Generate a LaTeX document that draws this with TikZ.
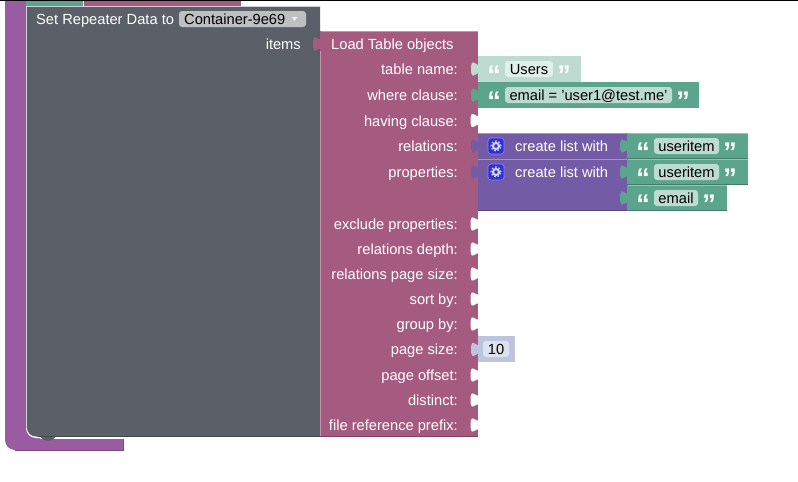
\documentclass[tikz,border=0pt]{standalone}
\usepackage{fontspec}
\setmainfont{Liberation Sans}
\definecolor{listpurple}{HTML}{9A5CA1}
\definecolor{greyblock}{HTML}{5B5F68}
\definecolor{loadred}{HTML}{A55B80}
\definecolor{strgreen}{HTML}{5BA58C}
\definecolor{strlight}{HTML}{BDDBD1}
\definecolor{strfield}{HTML}{BDDBD1}
\definecolor{mkgreen}{HTML}{745BA5}
\definecolor{numlight}{HTML}{BDC5DE}
\definecolor{numfield}{HTML}{DEE2EF}
\definecolor{gearblue}{HTML}{3030D8}
\definecolor{ddgrey}{HTML}{BDBFC3}
\tikzset{
  txt/.style={inner sep=0pt,text height=13pt,text depth=3pt,font=\fontsize{14.67}{16}\selectfont,text=black},
  lbl/.style={txt,text=white,anchor=east},
  lft/.style={txt,text=white,anchor=west},
  qmark/.style={inner sep=0pt,text=white,font=\fontsize{27}{27}\selectfont\bfseries}
}
% puzzle tab, centre height #2, right side at #1
\newcommand{\tabpath}[2]{(#1,#2-7.5) .. controls (#1,#2+2.5) and (#1-8,#2-15.5) .. (#1-8,#2) .. controls (#1-8,#2+15.5) and (#1,#2-2.5) .. (#1,#2+7.5)}
\begin{document}
\begin{tikzpicture}[x=1pt,y=-1pt]
  \useasboundingbox (0,0) rectangle (798,482);
  \fill[white] (0,0) rectangle (798,482);
  \fill[black] (0,0) rectangle (798,1);
  % outer list block
  \fill[listpurple] (5,1)--(40,1)--(40,439)--(123,439)--(123,450)--(15,450) .. controls (9.5,450) and (5,445.5) .. (5,440)--cycle;
  \draw[listpurple!80!black,line width=0.6pt] (123,439)--(123,450)--(15,450);
  % strip of the blocks above
  \fill[strgreen] (26,1) rectangle (83,6);
  \fill[loadred] (84,1) rectangle (241,6);
  \fill[strgreen] (40,6)--(42,8)--(46,9.5)--(50,9.5)--(54,8)--(56,6)--cycle;
  % repeater block
  \fill[white] (26,6)--(26,428) .. controls (26,433.5) and (30.5,438) .. (36,438)--(44,438)--(44,6)--cycle;
  \fill[greyblock] (27,6)--(27,428) .. controls (27,432.5) and (31,436.5) .. (36,436.5)--(320,436.5)--(320,6)--cycle;
  \fill[greyblock] (40,436)--(42,438.5)--(46,440.5)--(51,440.5)--(54,438.5)--(56,436)--cycle;
  \draw[white!72!greyblock,line width=0.6pt] (26.7,428)--(26.7,6.3)--(320,6.3);
  \draw[greyblock!75!black,line width=0.6pt] (38,436.3)--(320,436.3);
  \node[lft] (settitle) at (36,19) {Set Repeater Data to};
  \fill[ddgrey,rounded corners=3pt] (179,11) rectangle (306,27);
  \node[txt,anchor=west] (containerfield) at (184,19) {Container-9e69};
  \fill[white!88!greyblock] (291.5,17) -- (297.5,17) -- (294.5,21) -- cycle;
  \node[lbl] (itemslbl) at (301,44) {items};
  % load table block
  \fill[loadred] (320,31) rectangle (478,436);
  \fill[loadred] \tabpath{321}{44};
  \draw[white!35!loadred,line width=0.5pt] (320.5,51)--(320.5,436);
  \draw[white!35!loadred,line width=0.5pt] (320.5,31.3)--(478,31.3);
  \draw[loadred!75!black,line width=0.6pt] (320,436.3)--(478,436.3);
  \node[lft] (loadtitle) at (331,44) {Load Table objects};
  \foreach \rowy/\rowtxt/\rowname in {69/table name:/tablename,95/where clause:/whereclause,121/having clause:/havingclause,146/relations:/relationsrow,172/properties:/propertiesrow,224/exclude properties:/excludeprops,249/relations depth:/relationsdepth,274/relations page size:/relationspage,299/sort by:/sortby,324/group by:/groupby,349.5/page size:/pagesize,375/page offset:/pageoffset,400/distinct:/distinctrow,425/file reference prefix:/fileprefix}
    \node[lbl] (\rowname) at (458,\rowy) {\rowtxt};
  \foreach \socky in {120.5,224,249,274,299,324,375,400,425}
    \fill[white] \tabpath{478.5}{\socky};
  % table name
  \fill[strlight] (478,56) rectangle (581,82);
  \fill[strlight] \tabpath{479}{69};
  \fill[white!55!strlight,rounded corners=3pt] (505,61) rectangle (553,77);
  \node[txt] (usersfield) at (529,69) {Users};
  \node[qmark] (usersopen) at (494,75) {“};
  \node[qmark] (usersclose) at (564,75) {”};
  % where clause
  \fill[strgreen] (478,82) rectangle (699,108);
  \fill[strgreen] \tabpath{479}{95};
  \fill[strfield,rounded corners=3pt] (505,87) rectangle (672,103);
  \node[txt] (wherefield) at (588.5,95) {email = 'user1@test.me'};
  \node[qmark] (whereopen) at (494,101) {“};
  \node[qmark] (whereclose) at (683,101) {”};
  % list blocks
  \fill[mkgreen] (478,133) rectangle (627,211);
  \fill[mkgreen] \tabpath{479}{146};
  \fill[mkgreen] \tabpath{479}{172};
  \draw[white!35!mkgreen,line width=0.6pt] (478,133.3)--(627,133.3);
  \draw[white!35!mkgreen,line width=0.6pt] (478,159.2)--(627,159.2);
  \draw[mkgreen!75!black,line width=0.6pt] (478,210.7)--(627,210.7);
  \foreach \gy in {146,172}{
    \draw[white!45!gearblue,fill=gearblue,rounded corners=3pt,line width=0.6pt] (488,\gy-8) rectangle (504,\gy+8);
    \draw[white!80!gearblue,line width=2pt] (496,\gy) circle[radius=3pt];
    \draw[white!80!gearblue,line width=1.2pt,dash pattern=on 1.6pt off 1.9pt] (496,\gy) circle[radius=5pt];
  }
  \node[lft] (listone) at (515,146) {create list with};
  \node[lft] (listtwo) at (515,172) {create list with};
  % string blocks in the lists
  \foreach \sy/\sx/\fx/\stxt/\sname in {146/748/719/useritem/itemone,172/748/719/useritem/itemtwo,198/727/698/email/emailitem}{
    \fill[strgreen] (627,\sy-13) rectangle (\sx,\sy+13);
    \fill[strgreen] \tabpath{628}{\sy};
    \draw[white!35!strgreen,line width=0.6pt] (627.5,\sy-12.7)--(\sx,\sy-12.7);
    \draw[strgreen!75!black,line width=0.6pt] (627,\sy+12.7)--(\sx,\sy+12.7);
    \fill[strfield,rounded corners=3pt] (654,\sy-8) rectangle (\fx,\sy+8);
    \node[txt] (\sname) at ({(654+\fx)/2},\sy) {\stxt};
    \node[qmark] (\sname open) at (643,\sy+6) {“};
    \node[qmark] (\sname close) at ({\fx+11},\sy+6) {”};
  }
  % page size
  \fill[numlight] (478,336) rectangle (515,362);
  \fill[numlight] \tabpath{479}{349.5};
  \fill[numfield,rounded corners=3pt] (483,341) rectangle (509,357);
  \node[txt] (pagesizefield) at (496,349.5) {10};
\end{tikzpicture}
\end{document}
